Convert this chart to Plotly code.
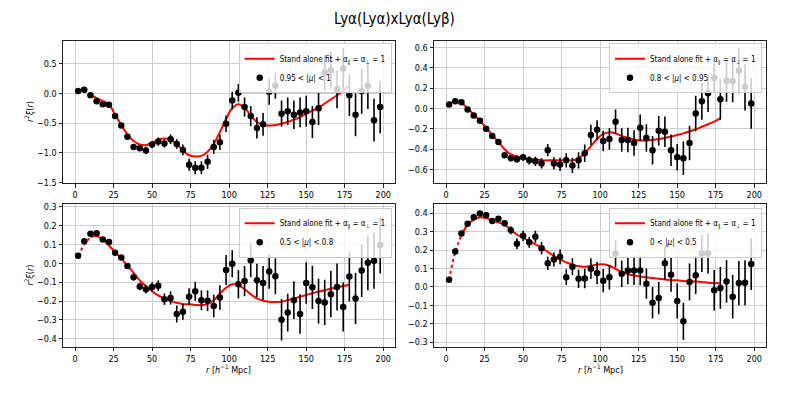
import plotly.graph_objects as go

# ---------------- data ----------------
r = [2, 6, 10, 14, 18, 22, 26, 30, 34, 38, 42, 46, 50, 54, 58, 62, 66, 70, 74, 78,
     82, 86, 90, 94, 98, 102, 106, 110, 114, 118, 122, 126, 130, 134, 138, 142, 146,
     150, 154, 158, 162, 166, 170, 174, 178, 182, 186, 190, 194, 198]
r_fit = r[:45]

labels = ["0.95 < |<i>μ</i>| < 1", "0.8 < |<i>μ</i>| < 0.95",
          "0.5 < |<i>μ</i>| < 0.8", "0 < |<i>μ</i>| < 0.5"]
fit_label = "Stand alone fit + α<sub>∥</sub> = α<sub>⊥</sub> = 1"

xi1 = [0.04, 0.06, -0.03, -0.13, -0.18, -0.19, -0.38, -0.54, -0.73, -0.90,
       -0.92, -0.96, -0.86, -0.81, -0.84, -0.77, -0.85, -0.95, -1.20, -1.25,
       -1.25, -1.15, -0.90, -0.82, -0.51, -0.12, 0.01, -0.23, -0.38, -0.58,
       -0.52, 0.03, 0.13, -0.34, -0.30, -0.36, -0.32, -0.30, -0.48, -0.25,
       0.35, 0.39, 0.07, 0.42, -0.03, -0.36, 0.04, 0.13, -0.45, -0.23]
err1 = [0.02, 0.02, 0.02, 0.02, 0.025, 0.025, 0.03, 0.035, 0.04, 0.05,
        0.05, 0.06, 0.06, 0.07, 0.07, 0.08, 0.08, 0.09, 0.10, 0.11,
        0.11, 0.12, 0.12, 0.13, 0.14, 0.15, 0.15, 0.16, 0.17, 0.18,
        0.19, 0.22, 0.22, 0.22, 0.23, 0.24, 0.25, 0.26, 0.27, 0.28,
        0.30, 0.31, 0.32, 0.34, 0.35, 0.36, 0.38, 0.39, 0.36, 0.44]
fit1 = [0.04, 0.03, -0.02, -0.08, -0.13, -0.18, -0.36, -0.53, -0.69, -0.80,
        -0.86, -0.87, -0.83, -0.78, -0.76, -0.78, -0.85, -0.96, -1.04, -1.06,
        -1.05, -0.98, -0.85, -0.65, -0.43, -0.25, -0.18, -0.24, -0.37, -0.48,
        -0.53, -0.54, -0.53, -0.51, -0.48, -0.44, -0.40, -0.34, -0.29, -0.24,
        -0.17, -0.10, -0.03, 0.05, 0.13]

xi2 = [0.04, 0.07, 0.06, -0.01, -0.07, -0.12, -0.20, -0.27, -0.33, -0.46,
       -0.49, -0.50, -0.48, -0.51, -0.52, -0.54, -0.41, -0.54, -0.55, -0.51,
       -0.56, -0.51, -0.44, -0.26, -0.21, -0.32, -0.30, -0.13, -0.31, -0.31,
       -0.34, -0.19, -0.29, -0.41, -0.22, -0.23, -0.41, -0.48, -0.49, -0.34,
       -0.05, 0.07, 0.15, 0.30, 0.09, 0.27, 0.27, 0.37, 0.21, 0.05]
err2 = [0.01, 0.01, 0.01, 0.012, 0.014, 0.016, 0.018, 0.02, 0.022, 0.025,
        0.028, 0.03, 0.035, 0.04, 0.045, 0.05, 0.06, 0.06, 0.065, 0.07,
        0.075, 0.08, 0.085, 0.10, 0.095, 0.10, 0.105, 0.12, 0.115, 0.12,
        0.125, 0.13, 0.135, 0.14, 0.145, 0.15, 0.155, 0.13, 0.165, 0.17,
        0.175, 0.18, 0.185, 0.145, 0.2, 0.205, 0.21, 0.22, 0.23, 0.25]
fit2 = [0.05, 0.07, 0.06, 0.00, -0.06, -0.12, -0.19, -0.26, -0.33, -0.40,
        -0.45, -0.47, -0.49, -0.50, -0.50, -0.51, -0.51, -0.51, -0.51, -0.51,
        -0.51, -0.49, -0.44, -0.37, -0.30, -0.25, -0.235, -0.245, -0.27, -0.29,
        -0.305, -0.315, -0.315, -0.31, -0.30, -0.29, -0.275, -0.26, -0.245, -0.225,
        -0.205, -0.18, -0.155, -0.13, -0.095]

xi3 = [0.040, 0.118, 0.157, 0.160, 0.127, 0.113, 0.056, 0.031, -0.014, -0.073,
       -0.122, -0.137, -0.125, -0.118, -0.190, -0.183, -0.268, -0.257, -0.177, -0.148,
       -0.195, -0.198, -0.226, -0.181, -0.035, -0.002, -0.111, -0.094, 0.017, -0.090,
       -0.104, -0.043, -0.068, -0.299, -0.261, -0.195, -0.268, -0.104, -0.127, -0.200,
       -0.207, -0.163, -0.125, -0.231, -0.070, -0.186, -0.038, 0.003, 0.014, 0.097]
err3 = [0.005, 0.005, 0.006, 0.007, 0.008, 0.009, 0.01, 0.012, 0.015, 0.018,
        0.02, 0.022, 0.025, 0.028, 0.03, 0.035, 0.045, 0.042, 0.045, 0.05,
        0.052, 0.055, 0.06, 0.065, 0.08, 0.072, 0.075, 0.08, 0.09, 0.088,
        0.09, 0.092, 0.095, 0.11, 0.1, 0.1, 0.105, 0.11, 0.115, 0.118,
        0.12, 0.122, 0.125, 0.13, 0.132, 0.135, 0.14, 0.145, 0.148, 0.15]
fit3 = [0.04, 0.10, 0.14, 0.145, 0.125, 0.095, 0.06, 0.025, -0.012, -0.05,
        -0.09, -0.12, -0.148, -0.17, -0.186, -0.20, -0.209, -0.215, -0.217, -0.22,
        -0.221, -0.215, -0.195, -0.16, -0.129, -0.111, -0.115, -0.137, -0.163, -0.186,
        -0.198, -0.203, -0.205, -0.203, -0.195, -0.186, -0.177, -0.167, -0.158, -0.15,
        -0.142, -0.134, -0.127, -0.12, -0.113]

xi4 = [0.039, 0.192, 0.290, 0.343, 0.377, 0.398, 0.389, 0.357, 0.369, 0.345,
       0.307, 0.234, 0.277, 0.242, 0.272, 0.210, 0.128, 0.149, 0.163, 0.053,
       0.110, 0.044, 0.046, 0.099, 0.075, 0.034, 0.052, 0.181, 0.071, 0.089,
       0.089, 0.089, 0.018, -0.085, -0.060, 0.128, 0.066, -0.076, -0.186, 0.027,
       0.064, 0.181, 0.181, -0.018, -0.005, 0.030, -0.053, 0.021, 0.023, 0.124]
err4 = [0.004, 0.005, 0.006, 0.007, 0.008, 0.01, 0.012, 0.014, 0.016, 0.018,
        0.022, 0.03, 0.028, 0.03, 0.032, 0.034, 0.036, 0.038, 0.04, 0.043,
        0.046, 0.05, 0.053, 0.056, 0.06, 0.063, 0.066, 0.075, 0.072, 0.075,
        0.078, 0.08, 0.082, 0.085, 0.088, 0.09, 0.092, 0.095, 0.1, 0.1,
        0.102, 0.1, 0.108, 0.11, 0.113, 0.115, 0.118, 0.12, 0.122, 0.14]
fit4 = [0.039, 0.19, 0.28, 0.337, 0.365, 0.377, 0.373, 0.359, 0.35, 0.337,
        0.311, 0.284, 0.266, 0.249, 0.231, 0.213, 0.19, 0.169, 0.149, 0.133,
        0.121, 0.112, 0.11, 0.114, 0.121, 0.123, 0.115, 0.098, 0.08, 0.069,
        0.062, 0.057, 0.052, 0.048, 0.044, 0.041, 0.037, 0.036, 0.032, 0.03,
        0.029, 0.027, 0.023, 0.021, 0.02]

y_ranges = [[-1.507, 0.88], [-0.733, 0.662], [-0.443, 0.313], [-0.325, 0.4475]]
y_dticks = [0.5, 0.2, 0.1, 0.1]

# ---------------- figure ----------------
FONT = "DejaVu Sans Condensed, Liberation Sans Narrow, DejaVu Sans, sans-serif"
# the page body has an 8 px margin; place everything in window pixels
OFF = 8
W, H = 789 - 2 * OFF, 395 - 2 * OFF


def px(x):
    return (x - OFF) / W


def py(y):
    return 1 - (y - OFF) / H


xdom = [[px(63), px(395.3)], [px(434), px(766.3)]]
ydom = [[py(184.3), py(39.7)], [py(351.3), py(206)]]

series = [(xi1, err1, fit1), (xi2, err2, fit2), (xi3, err3, fit3), (xi4, err4, fit4)]
fig = go.Figure()
layout = dict(width=W, height=H, margin=dict(l=0, r=0, t=0, b=0),
              plot_bgcolor="white", paper_bgcolor="white",
              font=dict(family=FONT, size=9, color="black"))

legend_pos = [(px(391.7), py(42)), (px(762), py(42)),
              (px(391.7), py(209.5)), (px(762), py(209.5))]

for i, (xi, err, fit) in enumerate(series):
    k = i + 1
    xa = "x" if k == 1 else f"x{k}"
    ya = "y" if k == 1 else f"y{k}"
    lg = "legend" if k == 1 else f"legend{k}"
    row, col = divmod(i, 2)
    # solid fit
    fig.add_trace(go.Scatter(x=r_fit[2:], y=fit[2:], mode="lines",
                             line=dict(color="red", width=2, shape="spline"),
                             name=fit_label, xaxis=xa, yaxis=ya, legend=lg))
    # dotted continuation at small r
    fig.add_trace(go.Scatter(x=r_fit[:3], y=fit[:3], mode="lines",
                             line=dict(color="red", width=2, dash="dot", shape="spline"),
                             showlegend=False, xaxis=xa, yaxis=ya, legend=lg))
    fig.add_trace(go.Scatter(x=r, y=xi, mode="markers",
                             marker=dict(color="black", size=6.5),
                             error_y=dict(type="data", array=err, color="black",
                                          thickness=1.6, width=0),
                             name=labels[i], xaxis=xa, yaxis=ya, legend=lg))
    axis_common = dict(showgrid=True, gridcolor="#cfcfcf", gridwidth=1,
                       showline=True, linecolor="#222", linewidth=1, mirror=True,
                       ticks="outside", ticklen=3.5, tickcolor="#222",
                       zeroline=False, tickfont=dict(size=9))
    layout["xaxis" if k == 1 else f"xaxis{k}"] = dict(
        domain=xdom[col], anchor=ya, range=[-7.8, 207.8], tick0=0, dtick=25,
        **axis_common)
    layout["yaxis" if k == 1 else f"yaxis{k}"] = dict(
        domain=ydom[row], anchor=xa, range=y_ranges[i], tick0=0, dtick=y_dticks[i],
        tickformat=".1f", **axis_common)
    layout[lg] = dict(x=legend_pos[i][0], y=legend_pos[i][1], xanchor="right",
                      yanchor="top", bgcolor="rgba(255,255,255,0.8)",
                      bordercolor="#cccccc", borderwidth=1,
                      font=dict(size=8), tracegroupgap=0, itemwidth=30)

ann = [
    dict(text="Lyα(Lyα)xLyα(Lyβ)", x=px(394.5), y=py(17), xref="paper", yref="paper",
         showarrow=False, font=dict(size=15), xanchor="center", yanchor="middle"),
]
ylab = "<i>r</i><sup>2</sup><i>ξ</i>(<i>r</i>)"
xlab = "<i>r</i> [<i>h</i><sup>−1</sup> Mpc]"
for yc in [py(112), py(278.6)]:
    ann.append(dict(text=ylab, x=px(29), y=yc, xref="paper", yref="paper",
                    showarrow=False, textangle=-90, font=dict(size=9),
                    xanchor="center", yanchor="middle"))
for xc in [px(229), px(600)]:
    ann.append(dict(text=xlab, x=xc, y=py(366), xref="paper", yref="paper",
                    showarrow=False, font=dict(size=9),
                    xanchor="center", yanchor="top"))
layout["annotations"] = ann
fig.update_layout(**layout)
fig.write_html("out.html")
